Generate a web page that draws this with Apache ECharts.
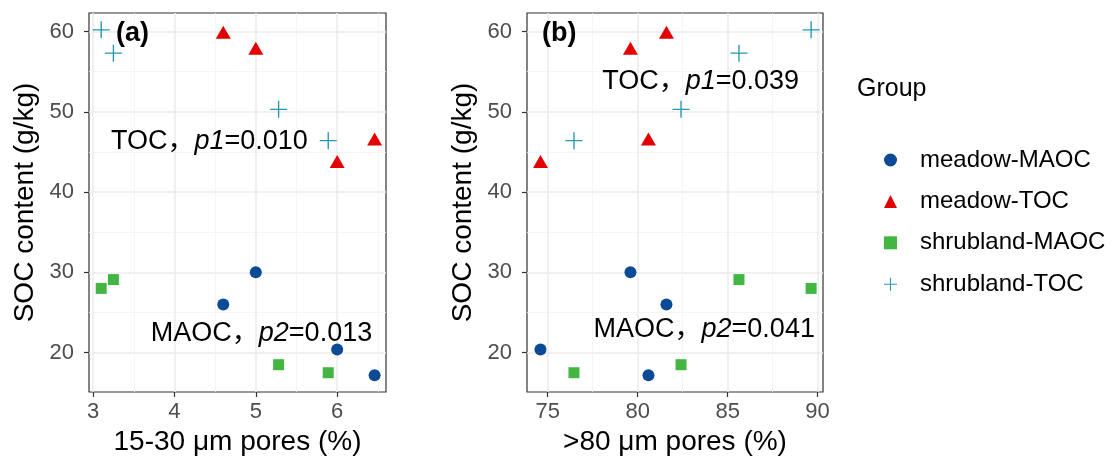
<!DOCTYPE html>
<html><head><meta charset="utf-8">
<script src="https://cdn.jsdelivr.net/npm/echarts@6/dist/echarts.min.js"></script>
<style>html,body{margin:0;padding:0;background:#fff}#c{width:1113px;height:466px}</style>
</head><body><div id="c"></div>
<script>
// ---- data ----
const groups = ['meadow-MAOC', 'meadow-TOC', 'shrubland-MAOC', 'shrubland-TOC'];
const meadowX_a = [4.60, 5.00, 6.00, 6.46];      // 15-30 µm pores (%)
const meadowX_b = [81.6, 79.6, 74.6, 80.6];      // >80 µm pores (%)
const shrubX_a  = [3.10, 3.25, 5.28, 5.89];
const shrubX_b  = [89.64, 85.63, 82.41, 76.46];
const meadowTOC  = [59.9, 57.9, 43.8, 46.6];
const meadowMAOC = [26.0, 30.0, 20.4, 17.2];
const shrubTOC   = [60.2, 57.3, 50.3, 46.4];
const shrubMAOC  = [28.0, 29.1, 18.5, 17.5];
const xTicks_a = [3, 4, 5, 6];
const xMinor_a = [3.5, 4.5, 5.5, 6.5];
const xTicks_b = [75, 80, 85, 90];
const xMinor_b = [77.5, 82.5, 87.5];
const yTicks = [20, 30, 40, 50, 60];
const yMinor = [25, 35, 45, 55];
const annot_a = ['TOC，', 'p1', '=0.010', 'MAOC，', 'p2', '=0.013'];
const annot_b = ['TOC，', 'p1', '=0.039', 'MAOC，', 'p2', '=0.041'];

const FONT = 'Liberation Sans, "Noto Sans CJK SC", Arial, sans-serif';
const colors = {'meadow-MAOC': '#0B4A94', 'meadow-TOC': '#E30000', 'shrubland-MAOC': '#43B543', 'shrubland-TOC': '#2399B0'};
const PLUS = 'path://M0,9.2H20V10.8H0Z M9.2,0H10.8V20H9.2Z';
const symbols = {'meadow-MAOC': ['circle', 12], 'meadow-TOC': ['triangle', [15, 13]], 'shrubland-MAOC': ['rect', 11], 'shrubland-TOC': [PLUS, 17]};

const zip = (xs, ys) => xs.map((x, i) => [x, ys[i]]);

const Y_MIN = 15.1, Y_MAX = 62.3;
const XA = [2.95, 6.60], XB = [73.85, 90.3];

function majorX(grid, range, ticks, name) {
  return {
    gridIndex: grid, type: 'value', min: range[0], max: range[1],
    name: name, nameLocation: 'middle', nameGap: 33,
    nameTextStyle: {fontSize: 28, color: '#000', fontFamily: FONT},
    axisLine: {show: false},
    axisTick: {show: true, customValues: ticks, length: 5, lineStyle: {color: '#333', width: 1.2}},
    axisLabel: {customValues: ticks, margin: 9, fontSize: 22, color: '#4D4D4D', fontFamily: FONT},
    splitLine: {show: true, lineStyle: {color: '#EBEBEB', width: 1.5}}
  };
}
function minorX(grid, range, ticks) {
  return {
    gridIndex: grid, type: 'value', min: range[0], max: range[1], position: 'bottom',
    axisLine: {show: false}, axisTick: {show: false, customValues: ticks},
    axisLabel: {show: false, customValues: ticks},
    splitLine: {show: true, lineStyle: {color: '#F2F2F2', width: 0.8}}
  };
}
function majorY(grid) {
  return {
    gridIndex: grid, type: 'value', min: Y_MIN, max: Y_MAX,
    name: 'SOC content (g/kg)', nameLocation: 'middle', nameGap: 50,
    nameTextStyle: {fontSize: 28, color: '#000', fontFamily: FONT},
    axisLine: {show: false},
    axisTick: {show: true, customValues: yTicks, length: 5, lineStyle: {color: '#333', width: 1.2}},
    axisLabel: {customValues: yTicks, margin: 15, fontSize: 22, color: '#4D4D4D', fontFamily: FONT},
    splitLine: {show: true, lineStyle: {color: '#EBEBEB', width: 1.5}}
  };
}
function minorY(grid) {
  return {
    gridIndex: grid, type: 'value', min: Y_MIN, max: Y_MAX, position: 'left',
    axisLine: {show: false}, axisTick: {show: false, customValues: yMinor},
    axisLabel: {show: false, customValues: yMinor},
    splitLine: {show: true, lineStyle: {color: '#F2F2F2', width: 0.8}}
  };
}

function pointSeries(name, xi, yi, data) {
  return {
    name: name, type: 'scatter', xAxisIndex: xi, yAxisIndex: yi,
    symbol: symbols[name][0], symbolSize: symbols[name][1],
    itemStyle: {color: colors[name], opacity: 1},
    data: data, silent: true, z: 3
  };
}
function annotSeries(xi, yi, pos, parts) {
  const base = {fontSize: 27, color: '#000', fontFamily: FONT, textBorderWidth: 0, textShadowBlur: 0, opacity: 1};
  return {
    type: 'scatter', xAxisIndex: xi, yAxisIndex: yi, symbolSize: 0, silent: true, z: 4,
    itemStyle: {color: '#000', opacity: 1},
    data: [pos],
    label: {
      show: true, position: 'inside', color: '#000', textBorderWidth: 0, opacity: 1,
      formatter: '{n|' + parts[0] + '}{i|' + parts[1] + '}{n|' + parts[2] + '}',
      rich: {
        n: base,
        i: Object.assign({}, base, {fontStyle: 'italic'})
      }
    }
  };
}

const option = {
  backgroundColor: '#fff',
  animation: false,
  title: [
    {text: '(a)', left: 111, top: 15, textStyle: {fontSize: 27, fontWeight: 'bold', color: '#000', fontFamily: FONT}},
    {text: '(b)', left: 537, top: 15, textStyle: {fontSize: 27, fontWeight: 'bold', color: '#000', fontFamily: FONT}},
    {text: 'Group', left: 852, top: 72, textStyle: {fontSize: 25, fontWeight: 'normal', color: '#000', fontFamily: FONT}}
  ],
  legend: {
    data: groups, orient: 'vertical', left: 879, top: 143,
    itemWidth: 13, itemHeight: 13, itemGap: 17.4, selectedMode: false,
    textStyle: {fontSize: 24, color: '#000', fontFamily: FONT, lineHeight: 24, padding: [0, 0, 0, 18]}
  },
  grid: [
    {left: 89, top: 13, width: 297, height: 379, show: true, backgroundColor: '#fff', borderColor: '#333', borderWidth: 1.2},
    {left: 527, top: 13, width: 296, height: 379, show: true, backgroundColor: '#fff', borderColor: '#333', borderWidth: 1.2}
  ],
  xAxis: [
    majorX(0, XA, xTicks_a, '15-30 μm pores (%)'),
    minorX(0, XA, xMinor_a),
    majorX(1, XB, xTicks_b, '>80 μm pores (%)'),
    minorX(1, XB, xMinor_b)
  ],
  yAxis: [majorY(0), minorY(0), majorY(1), minorY(1)],
  series: [
    pointSeries('meadow-MAOC', 0, 0, zip(meadowX_a, meadowMAOC)),
    pointSeries('meadow-TOC', 0, 0, zip(meadowX_a, meadowTOC)),
    pointSeries('shrubland-MAOC', 0, 0, zip(shrubX_a, shrubMAOC)),
    pointSeries('shrubland-TOC', 0, 0, zip(shrubX_a, shrubTOC)),
    pointSeries('meadow-MAOC', 2, 2, zip(meadowX_b, meadowMAOC)),
    pointSeries('meadow-TOC', 2, 2, zip(meadowX_b, meadowTOC)),
    pointSeries('shrubland-MAOC', 2, 2, zip(shrubX_b, shrubMAOC)),
    pointSeries('shrubland-TOC', 2, 2, zip(shrubX_b, shrubTOC)),
    annotSeries(0, 0, [4.43, 46.3], annot_a.slice(0, 3)),
    annotSeries(0, 0, [5.07, 22.4], annot_a.slice(3)),
    annotSeries(2, 2, [83.5, 53.8], annot_b.slice(0, 3)),
    annotSeries(2, 2, [83.7, 22.9], annot_b.slice(3))
  ]
};
const chart = echarts.init(document.getElementById('c'), null, {renderer: 'canvas'});
chart.setOption(option);
</script>
</body></html>
